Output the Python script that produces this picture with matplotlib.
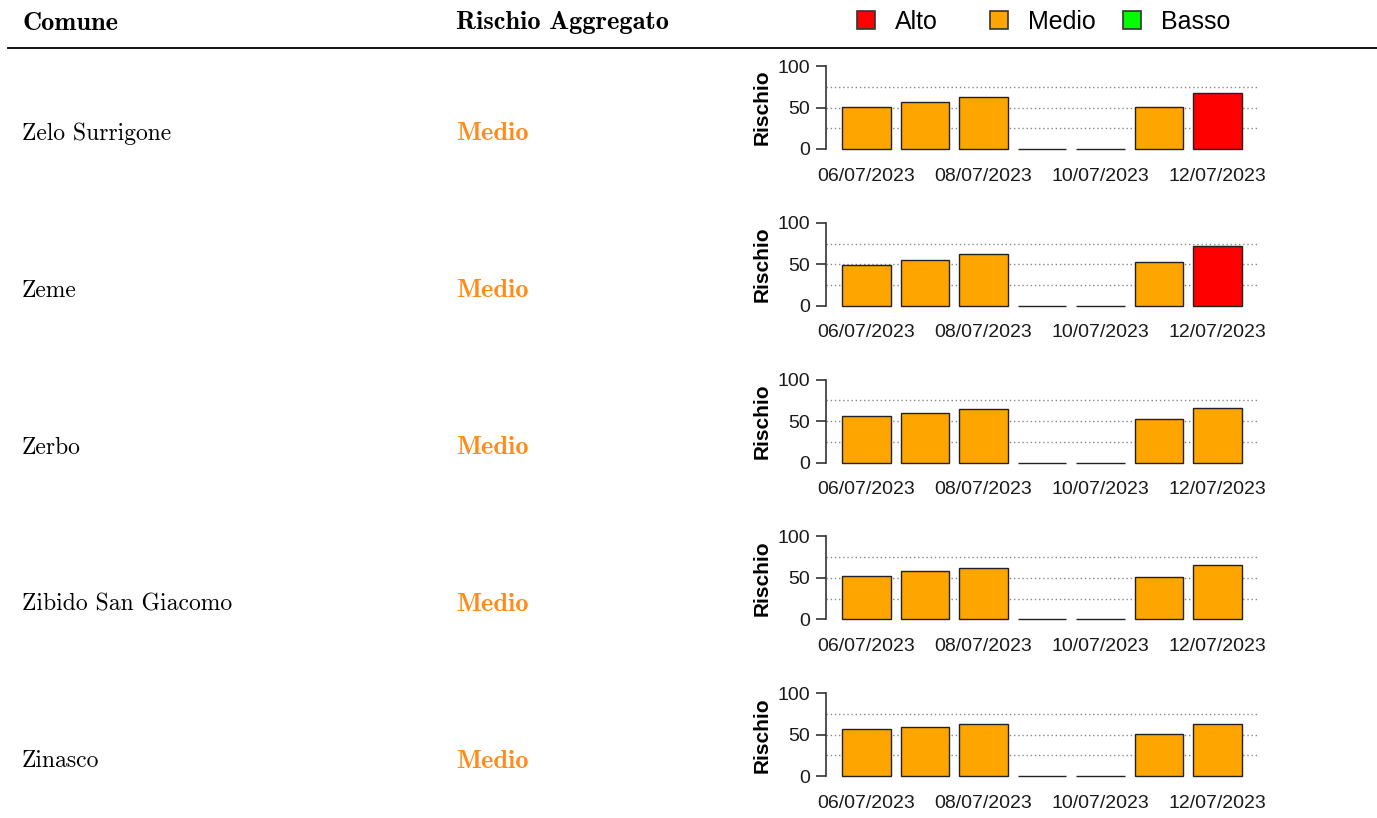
import matplotlib.pyplot as plt
from matplotlib.patches import Patch
from matplotlib.lines import Line2D

# Dati
comuni = ["Zelo Surrigone", "Zeme", "Zerbo", "Zibido San Giacomo", "Zinasco"]
rischio_aggregato = ["Medio", "Medio", "Medio", "Medio", "Medio"]
date = ["06/07/2023", "07/07/2023", "08/07/2023", "09/07/2023",
        "10/07/2023", "11/07/2023", "12/07/2023"]

zelo_surrigone = [50.5, 56.5, 62.5, 0, 0, 50.5, 67]
zeme = [49.5, 55, 62, 0, 0, 53, 71.5]
zerbo = [56.5, 59.5, 64, 0, 0, 52, 65.5]
zibido_san_giacomo = [52, 58, 62.5, 0, 0, 50.5, 65.5]
zinasco = [56.5, 59.5, 62.5, 0, 0, 50.5, 62.5]
valori = [zelo_surrigone, zeme, zerbo, zibido_san_giacomo, zinasco]

livelli = ["Alto", "Medio", "Basso"]
colori = {"Alto": "#FF0000", "Medio": "#FFA500", "Basso": "#00FF00"}
colore_testo = {"Alto": "#E8201A", "Medio": "#FF8C1A", "Basso": "#2CA02C"}


def livello(v):
    if v > 66:
        return "Alto"
    if v >= 33:
        return "Medio"
    return "Basso"


W, H = 1377, 818
fig = plt.figure(figsize=(W / 100, H / 100), dpi=100)


def fx(px):
    return px / W


def fy(py):
    return 1 - py / H


# Intestazione
fig.text(fx(22), fy(23), "Comune", family="cmb10", fontsize=19, va="center")
fig.text(fx(456), fy(23), "Rischio Aggregato", family="cmb10", fontsize=19, va="center")
fig.add_artist(Line2D([fx(8), 1], [fy(48), fy(48)], color="black", lw=1.3))

# legenda: una voce per blocco, come in R
legenda_x = [857, 990, 1123]
for l, x0 in zip(livelli, legenda_x):
    h = Patch(facecolor=colori[l], edgecolor="#333333", lw=1.2)
    fig.legend([h], [l], loc="center left", bbox_to_anchor=(fx(x0), fy(22)),
               frameon=False, prop={"family": "Liberation Sans", "size": 18},
               handlelength=0.72, handleheight=0.72, handletextpad=0.8,
               borderpad=0, borderaxespad=0)

step = 156.8
for i, nome in enumerate(comuni):
    off = i * step
    fig.text(fx(22), fy(134 + off), nome, family="cmr10", fontsize=17, va="center")
    fig.text(fx(456), fy(134 + off), rischio_aggregato[i], family="cmb10",
             fontsize=19, va="center", color=colore_testo[rischio_aggregato[i]])

    top, bottom = 62.7 + off, 152.3 + off
    ax = fig.add_axes([fx(826), fy(bottom), fx(1258) - fx(826), (bottom - top) / H])
    pos = list(range(len(date)))
    ax.bar(pos, valori[i], width=0.833,
           color=[colori[livello(v)] for v in valori[i]],
           edgecolor="#222222", linewidth=1, zorder=3)
    for g in [25, 50, 75]:
        ax.axhline(g, color="#888888", lw=1, linestyle=(0, (1, 2)), zorder=1)
    ax.set_xlim(-0.69, 6.69)
    ax.set_ylim(-4, 104)
    for s in ["top", "right", "bottom"]:
        ax.spines[s].set_visible(False)
    ax.spines["left"].set_bounds(0, 100)
    ax.spines["left"].set_color("#333333")
    ax.spines["left"].set_linewidth(1.2)
    ax.set_yticks([0, 50, 100])
    ax.set_xticks(pos[::2])
    ax.set_xticklabels(date[::2])
    ax.tick_params(axis="y", length=7, width=1.2, color="#333333", pad=4.5,
                   labelsize=14, labelcolor="#1a1a1a")
    ax.tick_params(axis="x", length=0, pad=11, labelsize=14, labelcolor="#1a1a1a")
    for lab in ax.get_xticklabels() + ax.get_yticklabels():
        lab.set_family("Liberation Sans")
    ax.text(-0.148, 0.5, "Rischio", transform=ax.transAxes, rotation=90,
            ha="center", va="center", family="Liberation Sans",
            fontweight="bold", fontsize=15)
    ax.set_facecolor("none")

fig.savefig("out.png", dpi=100)
